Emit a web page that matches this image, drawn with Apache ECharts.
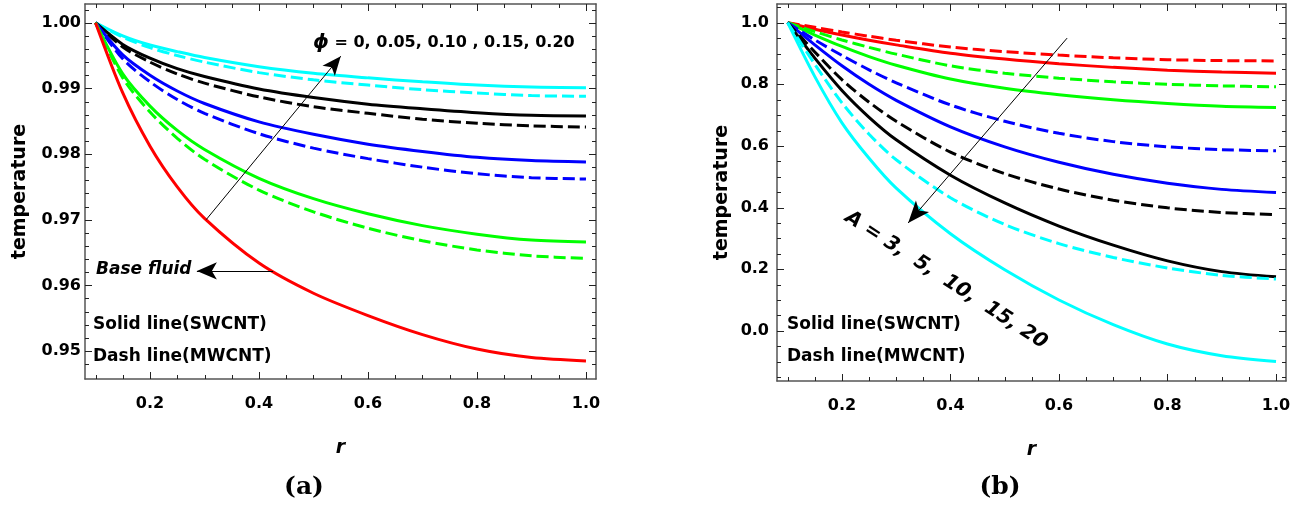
<!DOCTYPE html>
<html><head><meta charset="utf-8">
<script src="https://cdn.jsdelivr.net/npm/echarts@6/dist/echarts.min.js"></script>
<style>html,body{margin:0;padding:0;background:#fff}#c{width:1307px;height:510px}</style>
</head><body><div id="c"></div>
<script>
// ---------- data ----------
const r = [0.1, 0.15, 0.2, 0.25, 0.3, 0.4, 0.5, 0.6, 0.7, 0.8, 0.9, 1.0];

// panel (a): phi = 0 (base fluid), 0.05, 0.10, 0.15, 0.20
const aRed        = [1.0, 0.9893, 0.9812, 0.9750, 0.9702, 0.9634, 0.9588, 0.9554, 0.9525, 0.9503, 0.9490, 0.9485];
const aGreenSolid = [1.0, 0.9922, 0.9873, 0.9836, 0.9807, 0.9763, 0.9732, 0.9709, 0.9691, 0.9678, 0.9669, 0.9666];
const aGreenDash  = [1.0, 0.9916, 0.9864, 0.9824, 0.9792, 0.9745, 0.9712, 0.9687, 0.9668, 0.9654, 0.9645, 0.9641];
const aBlueSolid  = [1.0, 0.9951, 0.9920, 0.9896, 0.9877, 0.9849, 0.9830, 0.9815, 0.9804, 0.9795, 0.9790, 0.9788];
const aBlueDash   = [1.0, 0.9945, 0.9910, 0.9883, 0.9862, 0.9831, 0.9809, 0.9793, 0.9780, 0.9770, 0.9764, 0.9762];
const aBlackSolid = [1.0, 0.9967, 0.9946, 0.9930, 0.9918, 0.9899, 0.9886, 0.9876, 0.9869, 0.9863, 0.9859, 0.9858];
const aBlackDash  = [1.0, 0.9963, 0.9940, 0.9922, 0.9908, 0.9887, 0.9872, 0.9862, 0.9853, 0.9847, 0.9843, 0.9841];
const aCyanSolid  = [1.0, 0.9980, 0.9966, 0.9956, 0.9947, 0.9933, 0.9923, 0.9916, 0.9910, 0.9905, 0.9902, 0.9901];
const aCyanDash   = [1.0, 0.9978, 0.9962, 0.9950, 0.9940, 0.9924, 0.9913, 0.9905, 0.9898, 0.9893, 0.9889, 0.9888];

// panel (b): A = 3, 5, 10, 15, 20
const bRedSolid   = [1.0, 0.979, 0.960, 0.943, 0.928, 0.901, 0.882, 0.867, 0.855, 0.846, 0.840, 0.836];
const bRedDash    = [1.0, 0.985, 0.970, 0.956, 0.943, 0.921, 0.906, 0.895, 0.886, 0.880, 0.877, 0.876];
const bGreenSolid = [1.0, 0.960, 0.923, 0.890, 0.862, 0.817, 0.787, 0.766, 0.750, 0.738, 0.729, 0.725];
const bGreenDash  = [1.0, 0.971, 0.944, 0.920, 0.898, 0.860, 0.836, 0.820, 0.808, 0.800, 0.795, 0.792];
const bBlueSolid  = [1.0, 0.928, 0.860, 0.800, 0.748, 0.662, 0.597, 0.547, 0.508, 0.479, 0.459, 0.449];
const bBlueDash   = [1.0, 0.944, 0.894, 0.847, 0.805, 0.733, 0.680, 0.641, 0.614, 0.597, 0.588, 0.584];
const bBlackSolid = [1.0, 0.885, 0.780, 0.693, 0.620, 0.505, 0.415, 0.340, 0.278, 0.227, 0.192, 0.175];
const bBlackDash  = [1.0, 0.905, 0.815, 0.742, 0.680, 0.580, 0.510, 0.460, 0.424, 0.399, 0.384, 0.377];
const bCyanSolid  = [1.0, 0.825, 0.675, 0.560, 0.463, 0.315, 0.198, 0.100, 0.020, -0.043, -0.081, -0.100];
const bCyanDash   = [1.0, 0.865, 0.740, 0.638, 0.555, 0.432, 0.345, 0.283, 0.238, 0.204, 0.180, 0.168];

// ticks
const xMajor = [0.2, 0.4, 0.6, 0.8, 1.0];
const xMinor = [0.1, 0.15, 0.25, 0.3, 0.35, 0.45, 0.5, 0.55, 0.65, 0.7, 0.75, 0.85, 0.9, 0.95];
const aYMajor = [0.95, 0.96, 0.97, 0.98, 0.99, 1.00];
const aYMinor = [0.948, 0.952, 0.954, 0.956, 0.958, 0.962, 0.964, 0.966, 0.968, 0.972, 0.974, 0.976, 0.978,
                 0.982, 0.984, 0.986, 0.988, 0.992, 0.994, 0.996, 0.998, 1.002];
const bYMajor = [0.0, 0.2, 0.4, 0.6, 0.8, 1.0];
const bYMinor = [-0.15, -0.1, -0.05, 0.05, 0.1, 0.15, 0.25, 0.3, 0.35, 0.45, 0.5, 0.55, 0.65, 0.7, 0.75,
                 0.85, 0.9, 0.95, 1.05];

// axis extents
const aX = [0.0807, 1.0184], aY = [0.94574, 1.00285];
const bX = [0.0803, 1.0184], bY = [-0.163, 1.0607];

// annotation arrows (data coordinates)
const aPhiArrow  = [[0.303, 0.9700], [0.550, 0.9949]];
const aBaseArrow = [[0.426, 0.9622], [0.286, 0.9622]];
const bAArrow    = [[0.615, 0.950], [0.322, 0.350]];

// ---------- chart ----------
const FONT = '"DejaVu Sans", "Liberation Sans", sans-serif';
const frameColor = '#555';
const tickColor = '#222';
const MAJ = 7, MIN = 4;

function xAxes(g, ext) {
  const base = {gridIndex: g, type: 'value', min: ext[0], max: ext[1], splitLine: {show: false},
                axisTick: {show: false}, axisLine: {show: true, onZero: false, lineStyle: {color: frameColor, width: 1.5}}};
  return [
    Object.assign({}, base, {position: 'bottom',
      axisLabel: {show: true, customValues: xMajor, formatter: v => v.toFixed(1), margin: 17,
                  fontFamily: FONT, fontWeight: 'bold', fontSize: 16, color: '#000'},
      name: 'r', nameLocation: 'middle', nameGap: 60,
      nameTextStyle: {fontFamily: FONT, fontWeight: 'bold', fontStyle: 'italic', fontSize: 19, color: '#000'}}),
    Object.assign({}, base, {position: 'top', axisLabel: {show: false}})
  ];
}
function yAxes(g, ext, major, digits, margin, gap) {
  const base = {gridIndex: g, type: 'value', min: ext[0], max: ext[1], splitLine: {show: false},
                axisTick: {show: false}, axisLine: {show: true, onZero: false, lineStyle: {color: frameColor, width: 1.5}}};
  return [
    Object.assign({}, base, {position: 'left',
      axisLabel: {show: true, customValues: major, formatter: v => v.toFixed(digits), margin,
                  fontFamily: FONT, fontWeight: 'bold', fontSize: 16, color: '#000'},
      name: 'temperature', nameLocation: 'middle', nameGap: gap, nameRotate: 90,
      nameTextStyle: {fontFamily: FONT, fontWeight: 'bold', fontSize: 19, color: '#000'}}),
    Object.assign({}, base, {position: 'right', axisLabel: {show: false}})
  ];
}

// tick marks on all four sides, placed through the axes' own scales
function tickSeries(g, ext, xMaj, xMin, yMaj, yMin) {
  const data = [];
  xMaj.forEach(v => data.push([v, ext.y[0], 0, MAJ]));
  xMin.forEach(v => data.push([v, ext.y[0], 0, MIN]));
  yMaj.forEach(v => data.push([ext.x[0], v, 1, MAJ]));
  yMin.forEach(v => data.push([ext.x[0], v, 1, MIN]));
  return {
    type: 'custom', xAxisIndex: g * 2, yAxisIndex: g * 2, silent: true, z: 5, clip: false,
    encode: {x: 0, y: 1}, data,
    renderItem(params, api) {
      const cs = params.coordSys;
      const p = api.coord([api.value(0), api.value(1)]);
      const len = api.value(3);
      const st = {stroke: tickColor, lineWidth: 1};
      if (api.value(2) === 0) {
        const x = Math.round(p[0]) + 0.5;
        return {type: 'group', children: [
          {type: 'line', shape: {x1: x, y1: cs.y + cs.height, x2: x, y2: cs.y + cs.height - len}, style: st},
          {type: 'line', shape: {x1: x, y1: cs.y, x2: x, y2: cs.y + len}, style: st}
        ]};
      }
      const y = Math.round(p[1]) + 0.5;
      return {type: 'group', children: [
        {type: 'line', shape: {x1: cs.x, y1: y, x2: cs.x + len, y2: y}, style: st},
        {type: 'line', shape: {x1: cs.x + cs.width, y1: y, x2: cs.x + cs.width - len, y2: y}, style: st}
      ]};
    }
  };
}

const DASH = [12, 5];
function line(g, ys, color, dashed, extra) {
  return Object.assign({
    type: 'line', xAxisIndex: g * 2, yAxisIndex: g * 2,
    data: r.map((x, i) => [x, ys[i]]),
    smooth: 0.3, showSymbol: false, symbol: 'none', silent: true,
    lineStyle: {color, width: 3, type: dashed ? DASH : 'solid', cap: 'butt'},
    z: 2
  }, extra || {});
}
function arrowLine(pts, size) {
  return {
    silent: true, symbol: ['none', 'arrow'], symbolSize: size, animation: false,
    label: {show: false},
    lineStyle: {color: '#000', width: 1, type: 'solid'},
    itemStyle: {color: '#000'},
    emphasis: {disabled: true},
    data: [[{coord: pts[0]}, {coord: pts[1]}]]
  };
}
function txt(x, y, text, font, extra) {
  return Object.assign({type: 'text', x, y, silent: true, style: {
    text, font, fill: '#000', align: 'left', verticalAlign: 'middle', textAlign: 'left', textVerticalAlign: 'middle'}}, extra || {});
}

const chart = echarts.init(document.getElementById('c'), null, {renderer: 'canvas'});
chart.setOption({
  animation: false,
  backgroundColor: '#fff',
  grid: [
    {left: 85, top: 4, width: 511, height: 375},
    {left: 777, top: 4, width: 509, height: 377}
  ],
  xAxis: [...xAxes(0, aX), ...xAxes(1, bX)],
  yAxis: [...yAxes(0, aY, aYMajor, 2, 4, 55), ...yAxes(1, bY, bYMajor, 1, 8, 45)],
  series: [
    line(0, aCyanSolid, '#00FFFF', false),
    line(0, aCyanDash, '#00FFFF', true),
    line(0, aBlackSolid, '#000000', false),
    line(0, aBlackDash, '#000000', true),
    line(0, aBlueSolid, '#0000FF', false),
    line(0, aBlueDash, '#0000FF', true),
    line(0, aGreenSolid, '#00FF00', false, {markLine: arrowLine(aPhiArrow, [12, 19])}),
    line(0, aGreenDash, '#00FF00', true),
    line(0, aRed, '#FF0000', false, {markLine: arrowLine(aBaseArrow, [13, 20])}),

    line(1, bRedSolid, '#FF0000', false, {markLine: arrowLine(bAArrow, [13, 22])}),
    line(1, bRedDash, '#FF0000', true),
    line(1, bGreenSolid, '#00FF00', false),
    line(1, bGreenDash, '#00FF00', true),
    line(1, bBlueSolid, '#0000FF', false),
    line(1, bBlueDash, '#0000FF', true),
    line(1, bBlackSolid, '#000000', false),
    line(1, bBlackDash, '#000000', true),
    line(1, bCyanSolid, '#00FFFF', false),
    line(1, bCyanDash, '#00FFFF', true),

    tickSeries(0, {x: aX, y: aY}, xMajor, xMinor, aYMajor, aYMinor),
    tickSeries(1, {x: bX, y: bY}, xMajor, xMinor, bYMajor, bYMinor)
  ],
  graphic: [
    {type: 'text', x: 313, y: 43, silent: true, style: {
      text: '{i|ϕ}{n| = 0, 0.05, 0.10 , 0.15, 0.20}', align: 'left', verticalAlign: 'middle',
      textAlign: 'left', textVerticalAlign: 'middle',
      rich: {i: {font: 'bold italic 20px ' + FONT, fill: '#000'}, n: {font: 'bold 16px ' + FONT, fill: '#000'}}}},
    txt(96, 270, 'Base fluid', 'bold italic 17px ' + FONT),
    txt(93, 325, 'Solid line(SWCNT)', 'bold 17px ' + FONT),
    txt(93, 357, 'Dash line(MWCNT)', 'bold 17px ' + FONT),
    txt(787, 325, 'Solid line(SWCNT)', 'bold 17px ' + FONT),
    txt(787, 357, 'Dash line(MWCNT)', 'bold 17px ' + FONT),
    {type: 'text', x: 946, y: 280, rotation: -33 * Math.PI / 180, silent: true, style: {
      text: 'A = 3,  5,  10,  15, 20', font: 'bold italic 20px ' + FONT, fill: '#000',
      align: 'center', verticalAlign: 'middle', textAlign: 'center', textVerticalAlign: 'middle'}},
    {type: 'text', x: 304, y: 487, silent: true, style: {
      text: '(a)', font: 'bold 25px "DejaVu Serif", serif', fill: '#000',
      align: 'center', verticalAlign: 'middle', textAlign: 'center', textVerticalAlign: 'middle'}},
    {type: 'text', x: 1000, y: 487, silent: true, style: {
      text: '(b)', font: 'bold 25px "DejaVu Serif", serif', fill: '#000',
      align: 'center', verticalAlign: 'middle', textAlign: 'center', textVerticalAlign: 'middle'}}
  ]
});
</script></body></html>
